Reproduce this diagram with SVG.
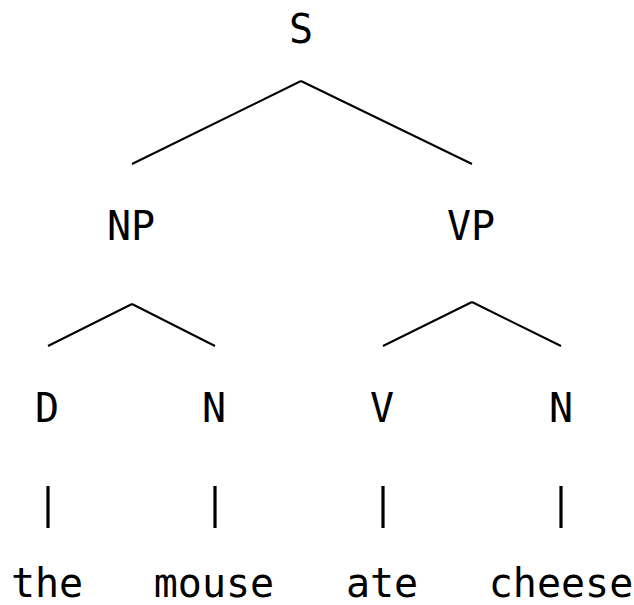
<svg xmlns="http://www.w3.org/2000/svg" width="634" height="605" viewBox="0 0 634 605">
<style>
text{font-family:"DejaVu Sans Mono","Liberation Mono",monospace;font-size:40px;fill:#000;text-anchor:middle}
.e{stroke:#000;stroke-width:2;fill:none;stroke-linecap:butt}
.p{stroke:#000;stroke-width:3.2;fill:none}
</style>
<rect width="634" height="605" fill="#fff"/>
<g id="connectors">
<line class="e" x1="301" y1="81" x2="132" y2="164"/>
<line class="e" x1="301" y1="81" x2="472" y2="164"/>
<line class="e" x1="132" y1="304" x2="48" y2="346"/>
<line class="e" x1="132" y1="304" x2="215" y2="346"/>
<line class="e" x1="472" y1="302" x2="383" y2="346"/>
<line class="e" x1="472" y1="302" x2="561" y2="346"/>
<line class="p" x1="48" y1="486" x2="48" y2="528"/>
<line class="p" x1="215" y1="486" x2="215" y2="528"/>
<line class="p" x1="383" y1="486" x2="383" y2="528"/>
<line class="p" x1="561" y1="486" x2="561" y2="528"/>
</g>
<g id="S"><text x="301" y="43">S</text></g>
<g id="NP"><text x="131" y="240">NP</text></g>
<g id="VP"><text x="471" y="240">VP</text></g>
<g id="D"><text x="47" y="422">D</text></g>
<g id="N1"><text x="214" y="422">N</text></g>
<g id="V"><text x="382" y="422">V</text></g>
<g id="N2"><text x="561" y="422">N</text></g>
<g id="the"><text x="47" y="597">the</text></g>
<g id="mouse"><text x="214" y="597">mouse</text></g>
<g id="ate"><text x="382" y="597">ate</text></g>
<g id="cheese"><text x="561" y="597">cheese</text></g>
</svg>
